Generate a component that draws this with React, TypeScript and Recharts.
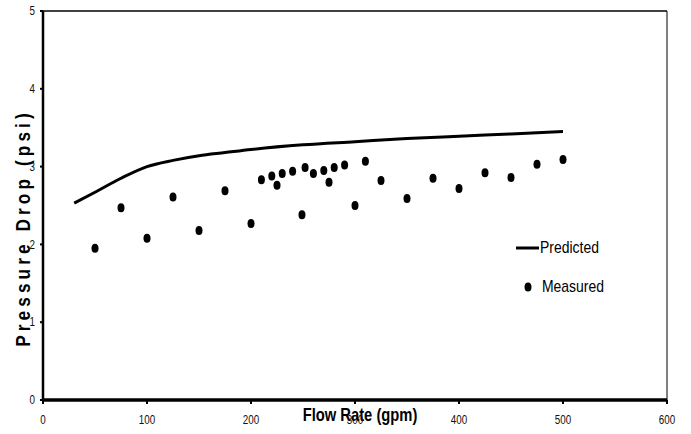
import React from "react";
import {
  ComposedChart,
  Line,
  Scatter,
  XAxis,
  YAxis,
  ReferenceLine,
  Legend,
  Label,
} from "recharts";

// measured pressure drop at each test flow rate
const flowRates = [50, 75, 100, 125, 150, 175, 200, 210, 220, 225, 230, 240, 249, 252, 260, 270, 275, 280, 290, 300, 310, 325, 350, 375, 400, 425, 450, 475, 500];
const measuredDrops = [1.95, 2.47, 2.08, 2.61, 2.18, 2.69, 2.27, 2.83, 2.88, 2.76, 2.91, 2.94, 2.38, 2.99, 2.91, 2.95, 2.8, 2.99, 3.02, 2.5, 3.07, 2.82, 2.59, 2.85, 2.72, 2.92, 2.86, 3.03, 3.09];

// model curve
const predictedFlow = [30, 50, 75, 100, 125, 150, 175, 200, 250, 300, 350, 400, 450, 500];
const predictedDrops = [2.53, 2.67, 2.85, 3.0, 3.08, 3.14, 3.18, 3.22, 3.28, 3.32, 3.36, 3.39, 3.42, 3.45];

const xTicks = [0, 100, 200, 300, 400, 500, 600];
const yTicks = [0, 1, 2, 3, 4, 5];

const measured = flowRates.map((x, i) => ({ x, y: measuredDrops[i] }));
const predicted = predictedFlow.map((x, i) => ({ x, y: predictedDrops[i] }));

// Liberation Sans squeezed horizontally stands in for Arial Narrow
const FONT = "'Liberation Sans', Arial, sans-serif";
const SQUEEZE = 0.82;

const XTick = (props: any) => {
  const { x, y, payload } = props;
  return (
    <text
      transform={`translate(${x},${y}) scale(${SQUEEZE},1)`}
      textAnchor="middle"
      dy="0.71em"
      fontFamily={FONT}
      fontSize={12}
      fill="#111"
    >
      {payload.value}
    </text>
  );
};

const YTick = (props: any) => {
  const { x, y, payload } = props;
  return (
    <text
      transform={`translate(${x},${y}) scale(${SQUEEZE},1)`}
      textAnchor="end"
      dy="0.355em"
      fontFamily={FONT}
      fontSize={12}
      fill="#111"
    >
      {payload.value}
    </text>
  );
};

const Dot = (props: any) => {
  const { cx, cy } = props;
  if (cx == null || cy == null) return null;
  return <ellipse cx={cx} cy={cy} rx={3.5} ry={4.5} fill="#000" />;
};

const legendOrder = ["Predicted", "Measured"];

const LegendBox = (props: any) => {
  const items = [...(props.payload || [])].sort(
    (a: any, b: any) => legendOrder.indexOf(a.value) - legendOrder.indexOf(b.value)
  );
  return (
    <div style={{ fontFamily: FONT, fontSize: 17, color: "#000", lineHeight: "20px" }}>
      {items.map((entry: any) => (
        <div
          key={entry.value}
          style={{ display: "flex", alignItems: "center", height: 20, marginBottom: 19 }}
        >
          <svg width={25} height={20} style={{ flex: "none" }}>
            {entry.type === "line" ? (
              <line x1={2} y1={10} x2={25} y2={10} stroke="#000" strokeWidth={3} />
            ) : (
              <ellipse cx={14} cy={10} rx={3.5} ry={4.5} fill="#000" />
            )}
          </svg>
          <span
            style={{
              display: "inline-block",
              transform: `scaleX(${SQUEEZE})`,
              transformOrigin: "left center",
              whiteSpace: "nowrap",
              marginLeft: entry.type === "line" ? 1 : 3,
            }}
          >
            {entry.value}
          </span>
        </div>
      ))}
    </div>
  );
};

export default function App() {
  return (
    <div style={{ position: "absolute", left: 0, top: 0, background: "#fff" }}>
      <ComposedChart
        width={691}
        height={434}
        margin={{ top: 11, right: 24, bottom: 4, left: 23 }}
      >
        <XAxis
          dataKey="x"
          type="number"
          domain={[0, 600]}
          ticks={xTicks}
          allowDataOverflow
          height={30}
          axisLine={{ stroke: "#000", strokeWidth: 3.5 }}
          tickLine={{ stroke: "#000", strokeWidth: 2 }}
          tickSize={4}
          tickMargin={11}
          tick={<XTick />}
        >
          <Label
            content={() => (
              <text
                transform={`translate(360,421) scale(${SQUEEZE},1)`}
                textAnchor="middle"
                fontFamily={FONT}
                fontWeight="bold"
                fontSize={18}
                fill="#000"
              >
                Flow Rate (gpm)
              </text>
            )}
          />
        </XAxis>
        <YAxis
          dataKey="y"
          type="number"
          domain={[0, 5]}
          ticks={yTicks}
          width={20}
          axisLine={{ stroke: "#000", strokeWidth: 2.5 }}
          tickLine={{ stroke: "#000", strokeWidth: 2 }}
          tickSize={3}
          tickMargin={5}
          tick={<YTick />}
        >
          <Label
            content={() => (
              <text
                transform={`translate(23,228) rotate(-90) scale(${SQUEEZE},1)`}
                textAnchor="middle"
                dominantBaseline="central"
                fontFamily={FONT}
                fontWeight="bold"
                fontSize={21}
                letterSpacing={5}
                fill="#000"
              >
                Pressure Drop (psi)
              </text>
            )}
          />
        </YAxis>
        <ReferenceLine y={5} stroke="#000" strokeWidth={1.5} />
        <ReferenceLine x={600} stroke="#000" strokeWidth={1} />
        <Legend
          layout="vertical"
          align="center"
          verticalAlign="middle"
          content={<LegendBox />}
          wrapperStyle={{ left: 514, top: 238, width: 110 }}
        />
        <Line
          data={predicted}
          dataKey="y"
          name="Predicted"
          type="monotone"
          stroke="#000"
          strokeWidth={3}
          dot={false}
          legendType="line"
          isAnimationActive={false}
        />
        <Scatter
          data={measured}
          dataKey="y"
          name="Measured"
          fill="#000"
          shape={<Dot />}
          legendType="circle"
          isAnimationActive={false}
        />
      </ComposedChart>
    </div>
  );
}
